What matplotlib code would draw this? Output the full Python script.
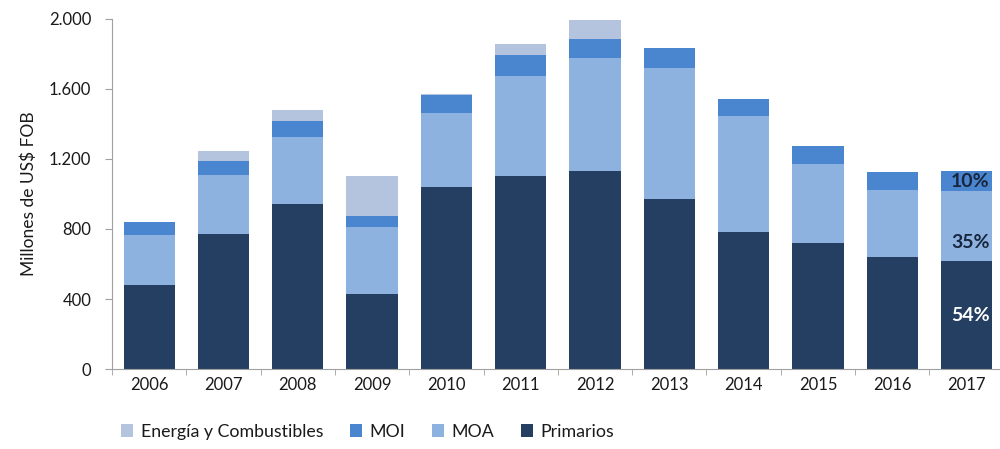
import matplotlib.pyplot as plt
import numpy as np

plt.rcParams['font.family'] = ['Lato', 'DejaVu Sans']

years = ['2006', '2007', '2008', '2009', '2010', '2011',
         '2012', '2013', '2014', '2015', '2016', '2017']

# millones de US$ FOB por rubro
primarios = [480, 770, 941, 427, 1038, 1105, 1131, 973, 783, 718, 638, 615]
moa = [286, 339, 383, 383, 423, 571, 644, 749, 663, 453, 384, 400]
moi = [76, 80, 95, 64, 104, 118, 109, 112, 97, 105, 102, 114]
energia = [0, 57, 61, 231, 6, 63, 110, 0, 0, 0, 0, 5]

series = [
    ('Primarios', primarios, '#243f61'),
    ('MOA', moa, '#8db2e0'),
    ('MOI', moi, '#4a86d0'),
    ('Energía y Combustibles', energia, '#b4c3de'),
]

fig = plt.figure(figsize=(10, 4.49), dpi=100)
ax = fig.add_axes([0.112, 0.178, 0.888, 0.78])

x = np.arange(len(years))
bottom = np.zeros(len(years))
bars = {}
for name, vals, color in series:
    bars[name] = ax.bar(x, vals, width=0.69, bottom=bottom, color=color,
                        label=name, zorder=2)
    bottom += np.array(vals)

# participacion de cada rubro en 2017
last = len(years) - 1
total = bottom[last]
base = 0
for name, vals, color in series[:3]:
    v = vals[last]
    txt_color = 'white' if name == 'Primarios' else '#17263d'
    y = base + v / 2
    if name == 'MOA':
        y -= 90
    ax.text(x[last] + 0.05, y, f'{round(v / total * 100)}%',
            ha='center', va='center', fontsize=14, fontweight='bold',
            color=txt_color, zorder=3)
    base += v

ax.set_xlim(-0.47, 11.45)
ax.set_ylim(0, 2000)
ax.set_yticks([0, 400, 800, 1200, 1600, 2000])
ax.set_yticklabels(['0', '400', '800', '1.200', '1.600', '2.000'])
ax.set_xticks(x)
ax.set_xticklabels(years)
ax.set_xticks(np.arange(-0.5, len(years) - 0.5, 1), minor=True)
ax.tick_params(axis='x', which='major', length=0, pad=6, labelsize=12,
               colors='#1a1a1a')
ax.tick_params(axis='x', which='minor', length=4, color='#a0a0a0')
ax.tick_params(axis='y', length=5, pad=10, labelsize=12, color='#a0a0a0',
               labelcolor='#1a1a1a')
for side in ['top', 'right']:
    ax.spines[side].set_visible(False)
for side in ['left', 'bottom']:
    ax.spines[side].set_color('#a0a0a0')

ax.set_ylabel('Millones de US$ FOB', fontsize=12.5, color='#1a1a1a')
ax.yaxis.set_label_coords(-0.085, 0.5)

handles = [bars[n] for n in ['Energía y Combustibles', 'MOI', 'MOA', 'Primarios']]
fig.legend(handles, ['Energía y Combustibles', 'MOI', 'MOA', 'Primarios'],
           loc='center left', bbox_to_anchor=(0.105, 0.038), ncol=4,
           frameon=False, fontsize=12.8, handlelength=0.7, handleheight=0.7,
           handletextpad=0.4, columnspacing=1.5, labelcolor='#1a1a1a')

fig.savefig('out.png', dpi=100)
